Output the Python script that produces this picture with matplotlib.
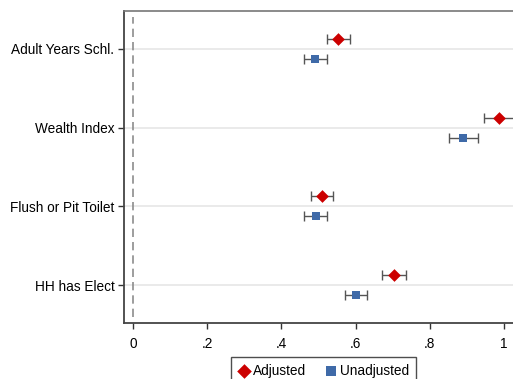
import matplotlib.pyplot as plt
import numpy as np

plt.rcParams["font.family"] = ["Liberation Sans", "DejaVu Sans"]

labels = ["Adult Years Schl.", "Wealth Index", "Flush or Pit Toilet", "HH has Elect"]
adj = [0.553, 0.985, 0.509, 0.703]
adj_lo = [0.522, 0.945, 0.480, 0.672]
adj_hi = [0.585, 1.028, 0.540, 0.736]
unadj = [0.491, 0.890, 0.492, 0.601]
unadj_lo = [0.462, 0.852, 0.462, 0.571]
unadj_hi = [0.522, 0.929, 0.523, 0.631]
xticks = [0, 0.2, 0.4, 0.6, 0.8, 1]
xtick_labels = ["0", ".2", ".4", ".6", ".8", "1"]


def main():
    fig = plt.figure(figsize=(5.13, 3.79), dpi=100)
    ax = fig.add_axes([0.2417, 0.148, 0.7583, 0.823])

    y = np.arange(len(labels))
    off = 0.127

    a = np.array(adj)
    u = np.array(unadj)
    a_err = [a - np.array(adj_lo), np.array(adj_hi) - a]
    u_err = [u - np.array(unadj_lo), np.array(unadj_hi) - u]

    for yy in y:
        ax.axhline(yy, color="#e6e6e6", lw=1.2, zorder=0)
    ax.axvline(0, ymin=0.02, ymax=0.98, color="#8c8c8c", lw=1.2,
               ls=(0, (5, 3)), zorder=1)

    ax.errorbar(a, y - off, xerr=a_err, fmt="none", ecolor="#555555",
                elinewidth=1.0, capsize=3.5, capthick=1.0, zorder=2)
    ax.errorbar(u, y + off, xerr=u_err, fmt="none", ecolor="#555555",
                elinewidth=1.0, capsize=3.5, capthick=1.0, zorder=2)
    ax.scatter(a, y - off, marker="D", s=42, color="#cc0000", zorder=3,
               label="Adjusted", linewidths=0)
    ax.scatter(u, y + off, marker="s", s=40, color="#3f6aa8", zorder=3,
               label="Unadjusted", linewidths=0)

    ax.set_ylim(len(labels) - 1 + 0.48, -0.48)
    ax.set_xlim(-0.024, 1.024)
    ax.set_yticks(y)
    ax.set_yticklabels(labels, fontsize=9.8)
    ax.set_xticks(xticks)
    ax.set_xticklabels(xtick_labels, fontsize=9.8)
    ax.tick_params(axis="both", direction="out", length=4, width=1,
                   color="#333333", pad=3)
    ax.tick_params(axis="x", pad=6)

    for side in ["left", "bottom"]:
        ax.spines[side].set_color("#444444")
        ax.spines[side].set_linewidth(1.3)
    ax.spines["top"].set_color("#777777")
    ax.spines["top"].set_linewidth(1.2)
    ax.spines["right"].set_visible(False)

    leg = fig.legend(loc="upper center", bbox_to_anchor=(0.63, 0.075),
                     ncol=2, fontsize=9.8, frameon=True, fancybox=False,
                     edgecolor="#222222", handletextpad=0.2,
                     handlelength=1.0, columnspacing=1.3, borderpad=0.45,
                     markerscale=1.15)
    leg.get_frame().set_linewidth(1.0)

    fig.savefig("out.png", dpi=100)


if __name__ == "__main__":
    main()
